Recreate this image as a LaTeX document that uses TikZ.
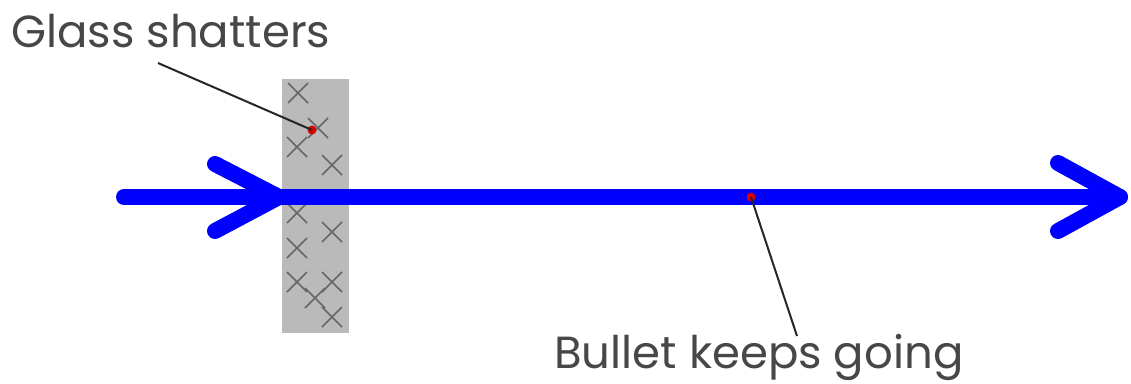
\documentclass[tikz,border=0pt]{standalone}
\usepackage{fontspec}
\setmainfont{Poppins}
\begin{document}
\begin{tikzpicture}[x=1pt,y=-1pt,
  lbl/.style={font=\fontsize{45}{54}\selectfont, text=black!72, inner sep=0pt, anchor=base west},
  bluearrow/.style={draw={rgb,255:red,0;green,0;blue,255}, line width=16pt, line cap=round, line join=round},
  leader/.style={draw=black!85, line width=2pt},
  reddot/.style={circle, fill=red!85!black, inner sep=0pt, minimum size=9pt},
  xmark/.style={draw=black!60, line width=1.6pt},
]
\useasboundingbox (0,0) rectangle (1131,383);
\fill[white] (0,0) rectangle (1131,383);
% glass pane
\node[draw=none, fill=black!27, minimum width=67pt, minimum height=254pt, inner sep=0pt, anchor=north west] (pane) at (282,79) {};
% x marks
\foreach \px/\py [count=\i] in {298/93, 318/128, 297/147, 332/165, 297/213, 332/232, 297/248, 297/282, 332/282, 315/298, 332/317}{
  \draw[xmark] (\px-10,\py-10) -- (\px+10,\py+10) (\px-10,\py+10) -- (\px+10,\py-10);
}
% bullet path
\coordinate (start) at (124,197);
\coordinate (tip1) at (279,197);
\coordinate (tip2) at (1120,197);
\coordinate (w1a) at (215,164);
\coordinate (w1b) at (215,231);
\coordinate (w2a) at (1058,163);
\coordinate (w2b) at (1058,231);
\draw[bluearrow] (start) -- (tip2);
\draw[bluearrow] (w1a) -- (tip1) -- (w1b);
\draw[bluearrow] (w2a) -- (tip2) -- (w2b);
% labels
\node[lbl] (glass) at (11,47) {Glass shatters};
\node[lbl] (bullet) at (554,368) {Bullet keeps going};
\coordinate (g0) at (158,63);
\coordinate (b0) at (797,336);
\node[reddot] (d1) at (312,130) {};
\node[reddot] (d2) at (751,197) {};
\draw[leader] (g0) -- (d1.center);
\draw[leader] (d2.center) -- (b0);
\end{tikzpicture}
\end{document}
